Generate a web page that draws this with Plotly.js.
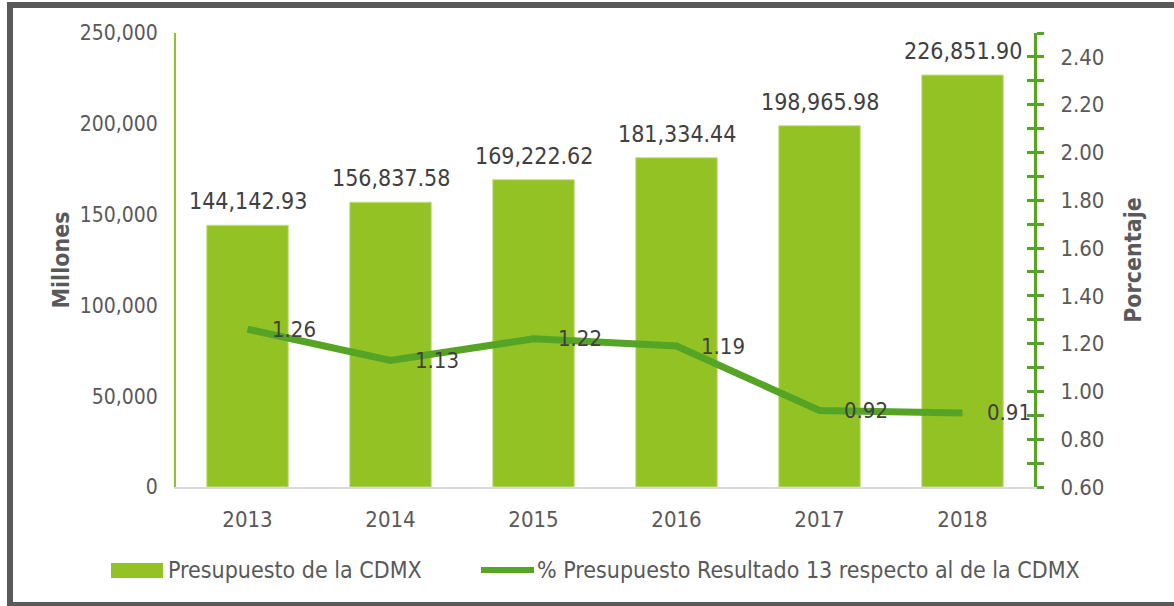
<!DOCTYPE html>
<html>
<head>
<meta charset="utf-8">
<script src="https://cdn.plot.ly/plotly-3.0.1.min.js"></script>
<style>html,body{margin:0;padding:0;background:#fff;}#chart{width:1174px;height:606px;}</style>
</head>
<body>
<div id="chart"></div>
<script>
var years = ['2013', '2014', '2015', '2016', '2017', '2018'];
var presupuesto = [144142.93, 156837.58, 169222.62, 181334.44, 198965.98, 226851.90];
var porcentaje = [1.26, 1.13, 1.22, 1.19, 0.92, 0.91];
var serieBarras = 'Presupuesto de la CDMX';
var serieLinea = '% Presupuesto Resultado 13 respecto al de la CDMX';
var tituloIzq = 'Millones';
var tituloDer = 'Porcentaje';

var FONT = "'DejaVu Sans Condensed', 'Liberation Sans Narrow', 'DejaVu Sans', sans-serif";
var BAR = '#93c225';
var LINE = '#55a425';
var GREY = '#595959';
var DARK = '#404040';

function fmt(v){ return v.toLocaleString('en-US', {minimumFractionDigits: 2, maximumFractionDigits: 2}); }

var traces = [
  {type: 'bar', x: years, y: presupuesto, name: serieBarras, width: 0.57,
   marker: {color: BAR, line: {color: '#c8e08a', width: 1}}, showlegend: false},
  {type: 'scatter', mode: 'lines', x: years, y: porcentaje, yaxis: 'y2', name: serieLinea,
   line: {color: LINE, width: 7}, showlegend: false},
  {type: 'scatter', mode: 'lines', x: years, y: porcentaje, yaxis: 'y3', hoverinfo: 'skip',
   line: {color: 'rgba(0,0,0,0)', width: 0}, showlegend: false}
];

var ann = [];
years.forEach(function(yr, i){
  ann.push({x: i, y: presupuesto[i], xref: 'x', yref: 'y', text: fmt(presupuesto[i]),
    showarrow: false, yanchor: 'bottom', yshift: 9, font: {family: FONT, size: 23, color: DARK}});
  ann.push({x: i, y: porcentaje[i], xref: 'x', yref: 'y2', text: porcentaje[i].toFixed(2),
    showarrow: false, xanchor: 'left', yanchor: 'middle', xshift: 22, font: {family: FONT, size: 22, color: DARK}});
});

function px(x){ return (x - 176) / 858; }
function py(y){ return (487 - y) / 454; }

ann.push({x: px(166), y: py(570), xref: 'paper', yref: 'paper', text: serieBarras, showarrow: false,
  xanchor: 'left', yanchor: 'middle', font: {family: FONT, size: 23, color: GREY}});
ann.push({x: px(535), y: py(570), xref: 'paper', yref: 'paper', text: serieLinea, showarrow: false,
  xanchor: 'left', yanchor: 'middle', font: {family: FONT, size: 23, color: GREY}});

var shapes = [
  {type: 'rect', xref: 'paper', yref: 'paper', x0: px(10), x1: px(1182), y0: py(605), y1: py(5),
   line: {color: GREY, width: 6}, fillcolor: 'rgba(0,0,0,0)', layer: 'below'},
  {type: 'rect', xref: 'paper', yref: 'paper', x0: px(111), x1: px(163), y0: py(578), y1: py(563),
   line: {width: 0}, fillcolor: BAR},
  {type: 'line', xref: 'paper', yref: 'paper', x0: px(481), x1: px(534), y0: py(570), y1: py(570),
   line: {color: LINE, width: 6}}
];

var layout = {
  width: 1174, height: 606,
  margin: {l: 176, r: 140, t: 33, b: 119},
  paper_bgcolor: '#ffffff', plot_bgcolor: '#ffffff',
  font: {family: FONT, color: GREY},
  showlegend: false,
  xaxis: {type: 'category', range: [-0.5, 5.5], autorange: false, showline: true, linecolor: '#d9d9d9', linewidth: 2,
    ticks: '', showgrid: false, zeroline: false, ticklabelstandoff: 12,
    tickfont: {family: FONT, size: 22, color: GREY}},
  yaxis: {range: [0, 250000], dtick: 50000, tickformat: ',', showline: true, linecolor: '#92c12a', linewidth: 2,
    ticks: '', showgrid: false, zeroline: false, ticklabelstandoff: 12,
    tickfont: {family: FONT, size: 21, color: GREY},
    title: {text: tituloIzq, standoff: 4, font: {family: FONT, size: 23, color: GREY, weight: 'bold'}}},
  yaxis2: {overlaying: 'y', side: 'right', range: [0.6, 2.5], tick0: 0.6, dtick: 0.2, tickformat: '.2f',
    showline: true, linecolor: LINE, linewidth: 3, showgrid: false, zeroline: false,
    ticks: 'outside', ticklen: 7, tickwidth: 3, tickcolor: LINE, ticklabelstandoff: 12,
    minor: {dtick: 0.1, tick0: 0.6, ticks: 'outside', ticklen: 7, tickwidth: 3, tickcolor: LINE, showgrid: false},
    tickfont: {family: FONT, size: 22, color: GREY},
    title: {text: tituloDer, standoff: 22, font: {family: FONT, size: 23, color: GREY, weight: 'bold'}}},
  yaxis3: {overlaying: 'y', side: 'right', range: [0.6, 2.5], tick0: 0.6, dtick: 0.1,
    showline: false, showgrid: false, zeroline: false, showticklabels: false,
    ticks: 'inside', ticklen: 7, tickwidth: 3, tickcolor: LINE},
  annotations: ann,
  shapes: shapes
};

Plotly.newPlot('chart', traces, layout, {displayModeBar: false, staticPlot: true});
</script>
</body>
</html>
